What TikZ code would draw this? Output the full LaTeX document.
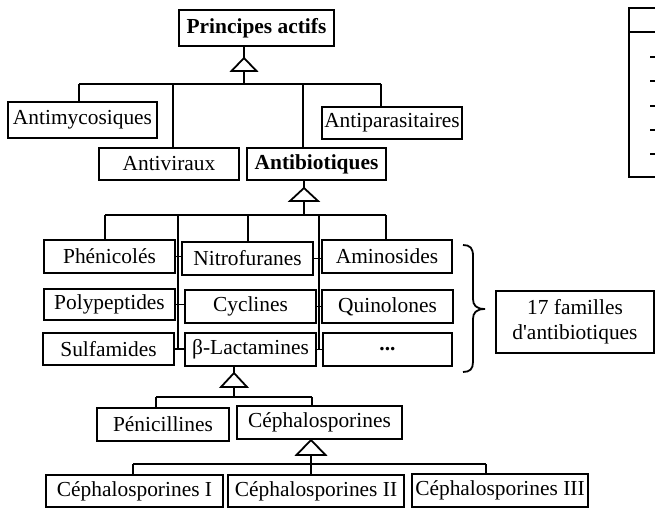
\documentclass[tikz,border=0pt]{standalone}
\usepackage{fontspec}
\setmainfont{Liberation Serif}
\newcommand\diagfont{\fontsize{10.7}{12.5}\selectfont}
\begin{document}
\begin{tikzpicture}[x=0.5pt,y=-0.5pt,line width=0.9pt,
  box/.style={draw,rectangle,inner sep=0pt,font=\diagfont},
  bbox/.style={box,font=\diagfont\bfseries},
  sz/.style 2 args={minimum width=#1*0.5pt,minimum height=#2*0.5pt},
  tri/.style={fill=white}]
\useasboundingbox (0,0) rectangle (655,508);

% level 0/1
\node[bbox,sz={155}{36}] (pa) at (256.5,28) {Principes actifs};
\node[box,sz={149}{36}] (amy) at (82.5,120) {Antimycosiques};
\node[box,sz={140}{32}] (avi) at (169,164) {Antiviraux};
\node[bbox,sz={139}{32}] (abi) at (316.5,164) {Antibiotiques};
\node[box,sz={140}{32}] (apa) at (392,123) {Antiparasitaires};

% families
\node[box,sz={131}{33}] (phe) at (109.5,256.5) {Phénicolés};
\node[box,sz={131}{33}] (nit) at (247.5,258.5) {Nitrofuranes};
\node[box,sz={130}{33}] (ami) at (387,256.5) {Aminosides};
\node[box,sz={131}{31}] (pol) at (109.5,304.5) {Polypeptides};
\node[box,sz={131}{33}] (cyc) at (250.5,306.5) {Cyclines};
\node[box,sz={131}{33}] (qui) at (387.5,306.5) {Quinolones};
\node[box,sz={131}{32}] (sul) at (108.5,349) {Sulfamides};
\node[box,sz={131}{33}] (bla) at (250.5,349.5) {β-Lactamines};
\node[box,sz={129}{33}] (dots) at (387.5,349.5) {\textbf{...}};
\node[box,sz={158}{62},align=center] (fam) at (575,322) {17 familles\\d\textquotesingle antibiotiques};

% beta-lactams
\node[box,sz={132}{33}] (pen) at (163,424.5) {Pénicillines};
\node[box,sz={165}{33}] (cep) at (319.5,422.5) {Céphalosporines};
\node[box,sz={177}{32}] (c1) at (134.5,491) {Céphalosporines I};
\node[box,sz={176}{32}] (c2) at (316,491) {Céphalosporines II};
\node[box,sz={176}{33}] (c3) at (500,490.5) {Céphalosporines III};

% tree 1
\coordinate (t1) at (244,58);
\draw (pa.south -| t1) -- (t1);
\draw[tri] (t1) -- ++(-12.5,13) -- ++(25,0) -- cycle;
\coordinate (b1) at (244,84);
\draw (t1) ++(0,13) -- (b1);
\draw (79,84) -- (381,84);
\draw (79,84) -- (amy.north -| 79,84);
\draw (173,84) -- (avi.north -| 173,84);
\draw (303,84) -- (abi.north -| 303,84);
\draw (381,84) -- (apa.north -| 381,84);

% tree 2
\coordinate (t2) at (304,188);
\draw (abi.south -| t2) -- (t2);
\draw[tri] (t2) -- ++(-14,13) -- ++(28,0) -- cycle;
\coordinate (b2) at (304,215);
\draw (t2) ++(0,13) -- (b2);
\draw (105,215) -- (386,215);
\draw (105,215) -- (phe.north -| 105,215);
\draw (248,215) -- (nit.north -| 248,215);
\draw (386,215) -- (ami.north -| 386,215);
\draw (178,215) -- (178,349);
\draw (319,215) -- (319,350);
\draw (phe.east) -- (phe.east -| nit.west);
\draw (pol.east) -- (pol.east -| cyc.west);
\draw (sul.east) -- (sul.east -| bla.west);
\draw (nit.east) -- (nit.east -| ami.west);
\draw (cyc.east) -- (cyc.east -| qui.west);
\draw (bla.east) -- (bla.east -| dots.west);

% tree 3
\coordinate (t3) at (234,373);
\draw (bla.south -| t3) -- (t3);
\draw[tri] (t3) -- ++(-13,14) -- ++(26,0) -- cycle;
\coordinate (b3) at (234,397);
\draw (t3) ++(0,14) -- (b3);
\draw (156,397) -- (312,397);
\draw (156,397) -- (pen.north -| 156,397);
\draw (312,397) -- (cep.north -| 312,397);

% tree 4
\coordinate (t4) at (311,440);
\draw (cep.south -| t4) -- (t4);
\draw[tri] (t4) -- ++(-14.5,15) -- ++(29,0) -- cycle;
\coordinate (b4) at (311,464);
\draw (t4) ++(0,15) -- (b4);
\draw (133,464) -- (486,464);
\draw (133,464) -- (c1.north -| 133,464);
\draw (311,464) -- (c2.north -| 311,464);
\draw (486,464) -- (c3.north -| 486,464);

% brace
\draw (463,245) .. controls (470,245) and (473,248) .. (473,256) -- (473,299)
  .. controls (473,305) and (476,309) .. (485,309)
  .. controls (476,309) and (473,313) .. (473,319) -- (473,362)
  .. controls (473,369) and (470,372) .. (463,372);

% partial box at right edge
\draw (662,8) -- (629,8) -- (629,177) -- (662,177);
\draw (629,32) -- (662,32);
\foreach \yy in {57,81,106,130,154} \draw (650,\yy) -- (657,\yy);
\end{tikzpicture}
\end{document}
